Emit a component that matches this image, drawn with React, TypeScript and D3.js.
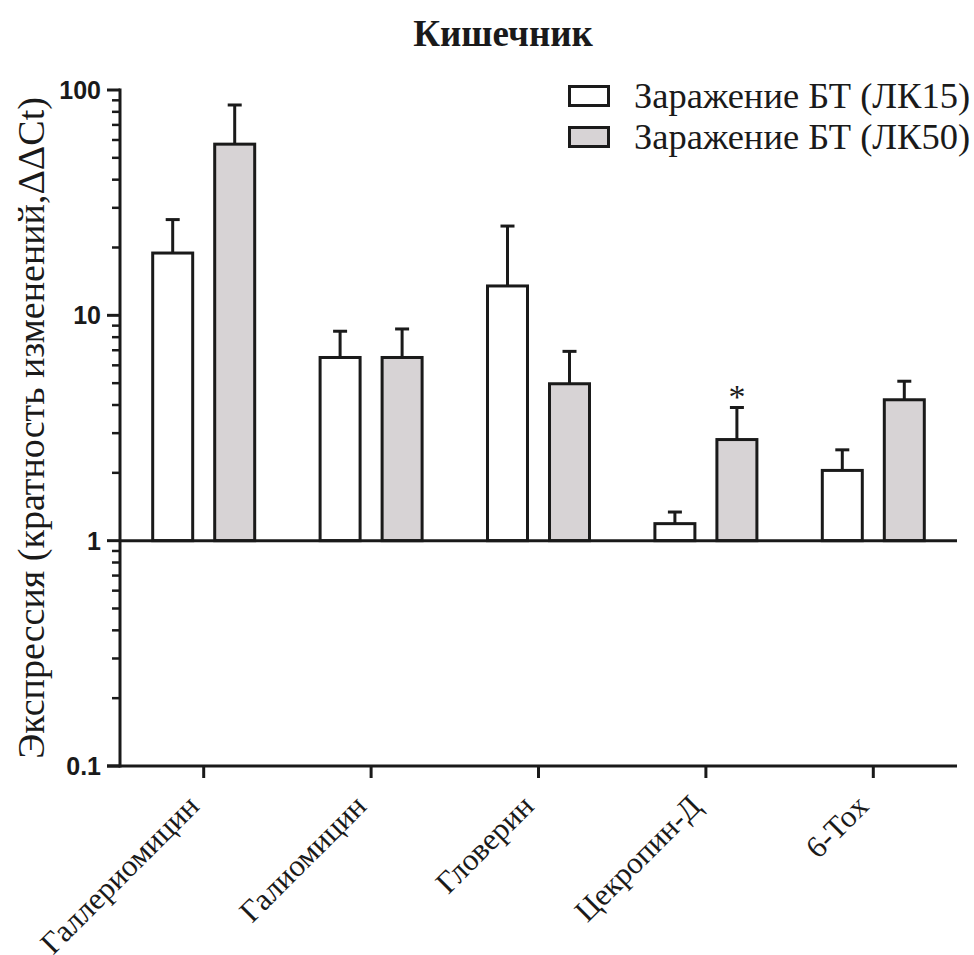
import React from "react";
import * as d3 from "d3";

const categories = ["Галлериомицин", "Галиомицин", "Гловерин", "Цекропин-Д", "6-Tox"];
const seriesNames = ["Заражение БТ (ЛК15)", "Заражение БТ (ЛК50)"];
const meanLK15 = [18.9, 6.5, 13.5, 1.19, 2.05];
const errLK15 = [26.6, 8.5, 24.9, 1.34, 2.53];
const meanLK50 = [57.5, 6.5, 4.97, 2.81, 4.22];
const errLK50 = [85.8, 8.7, 6.92, 3.9, 5.1];
const significant = [[], [], [], [1], []];
const yTicks = [0.1, 1, 10, 100];
const yTickLabels = ["0.1", "1", "10", "100"];
const fills = ["#ffffff", "#d7d3d5"];

const W = 974;
const H = 955;
const left = 120;
const right = 957;
const top = 90;
const bottom = 766;
const ink = "#1a1a1a";
const serif = "'Liberation Serif', 'Times New Roman', serif";
const sans = "'Liberation Sans', Arial, sans-serif";

export default function App() {
  const y = d3.scaleLog().domain([0.1, 100]).range([bottom, top]);
  const x = d3.scaleBand().domain(categories).range([left, right]).padding(0);
  const step = x.step();
  const xs = d3
    .scaleBand()
    .domain(seriesNames)
    .range([step / 2 - 51, step / 2 + 51])
    .paddingInner(0.355)
    .paddingOuter(0);
  const bw = xs.bandwidth();
  const means = [meanLK15, meanLK50];
  const errs = [errLK15, errLK50];

  const minor: number[] = [];
  for (let e = -1; e < 2; e++) {
    for (let k = 2; k <= 9; k++) minor.push(k * Math.pow(10, e));
  }

  return (
    <svg
      width={W}
      height={H}
      style={{ position: "absolute", left: 0, top: 0, background: "#fff" }}
    >
      <text x={503} y={46} textAnchor="middle" style={{ fontFamily: serif, fontWeight: "bold", fontSize: 37 }} fill={ink}>
        Кишечник
      </text>

      {/* bars */}
      {categories.map((c, i) =>
        seriesNames.map((s, j) => {
          const x0 = (x(c) as number) + (xs(s) as number);
          const cx = x0 + bw / 2;
          const yv = y(means[j][i]);
          const ye = y(errs[j][i]);
          return (
            <g key={c + s}>
              <line x1={cx} x2={cx} y1={yv} y2={ye} stroke={ink} strokeWidth={3} />
              <line x1={cx - 7} x2={cx + 7} y1={ye} y2={ye} stroke={ink} strokeWidth={3} />
              <rect x={x0} y={yv} width={bw} height={y(1) - yv} fill={fills[j]} stroke={ink} strokeWidth={3} />
            </g>
          );
        })
      )}

      {/* significance */}
      {categories.map((c, i) =>
        (significant[i] as number[]).map((j) => {
          const cx = (x(c) as number) + (xs(seriesNames[j]) as number) + bw / 2;
          return (
            <text key={c + "sig" + j} x={cx} y={y(errs[j][i]) + 1} textAnchor="middle" style={{ fontFamily: serif, fontSize: 34 }} fill={ink}>
              *
            </text>
          );
        })
      )}

      {/* baseline at 1 */}
      <line x1={left} x2={right} y1={y(1)} y2={y(1)} stroke={ink} strokeWidth={3} />

      {/* y axis */}
      <line x1={left} x2={left} y1={top - 1.5} y2={bottom + 1.5} stroke={ink} strokeWidth={3} />
      {yTicks.map((t, i) => (
        <g key={"yt" + t}>
          <line x1={left - 13} x2={left} y1={y(t)} y2={y(t)} stroke={ink} strokeWidth={3} />
          <text x={left - 19} y={y(t) + 9} textAnchor="end" style={{ fontFamily: sans, fontWeight: "bold", fontSize: 25 }} fill={ink}>
            {yTickLabels[i]}
          </text>
        </g>
      ))}
      {minor.map((t) => (
        <line key={"m" + t} x1={left - 8} x2={left} y1={y(t)} y2={y(t)} stroke={ink} strokeWidth={2.5} />
      ))}

      {/* x axis */}
      <line x1={left - 13} x2={right} y1={bottom} y2={bottom} stroke={ink} strokeWidth={3} />
      {categories.map((c) => {
        const cx = (x(c) as number) + step / 2;
        return (
          <g key={"xt" + c}>
            <line x1={cx} x2={cx} y1={bottom} y2={bottom + 12} stroke={ink} strokeWidth={3} />
            <text
              transform={`translate(${cx - 3},${bottom + 42}) rotate(-45)`}
              textAnchor="end"
              style={{ fontFamily: serif, fontSize: 31 }}
              fill={ink}
            >
              {c}
            </text>
          </g>
        );
      })}

      {/* y label */}
      <text
        transform={`translate(44,${(top + bottom) / 2}) rotate(-90)`}
        textAnchor="middle"
        style={{ fontFamily: serif, fontSize: 38 }}
        fill={ink}
      >
        Экспрессия (кратность изменений,ΔΔCt)
      </text>

      {/* legend */}
      {seriesNames.map((s, j) => (
        <g key={"lg" + s} transform={`translate(0,${j * 41})`}>
          <rect x={569.5} y={86.5} width={39} height={19} fill={fills[j]} stroke={ink} strokeWidth={3} />
          <text x={634} y={108} style={{ fontFamily: serif, fontSize: 36.5 }} fill={ink}>
            {s}
          </text>
        </g>
      ))}
    </svg>
  );
}
